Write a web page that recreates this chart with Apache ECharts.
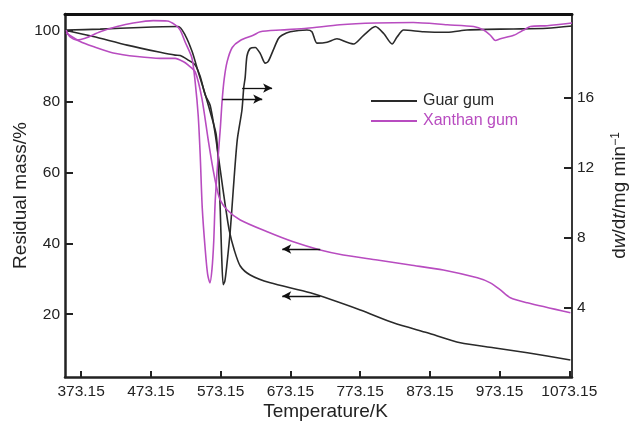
<!DOCTYPE html>
<html>
<head>
<meta charset="utf-8">
<script src="https://cdn.jsdelivr.net/npm/echarts@6/dist/echarts.min.js"></script>
<style>
html,body{margin:0;padding:0;background:#fff;}
#chart{width:630px;height:422px;}
</style>
</head>
<body>
<div id="chart"></div>
<script>
// Tick labels
var xTicks = [373.15, 473.15, 573.15, 673.15, 773.15, 873.15, 973.15, 1073.15];
var massTicks = [20, 40, 60, 80, 100];
var rateTicks = [4, 8, 12, 16];

// Guar gum residual mass (%) vs temperature (K)
var guarMassT = [351.6, 390.4, 439.1, 486.5, 508.0, 515.2, 526.7, 536.7, 543.9, 551.1, 558.2, 565.4, 572.6, 579.8, 585.5, 592.7, 601.3, 615.6, 644.3, 701.7, 773.4, 820.8, 869.6, 916.9, 964.3, 1013.0, 1074.7];
var guarMass  = [100, 98.29, 95.87, 93.86, 93.06, 92.96, 91.65, 90.24, 87.02, 81.79, 78.87, 70.8, 60.75, 50.7, 43.65, 38.1, 33.6, 31.07, 28.85, 26.03, 21.2, 17.58, 14.76, 11.95, 10.54, 9.13, 7.11];

// Xanthan gum residual mass (%)
var xanMassT = [351.6, 371.7, 390.4, 419.1, 453.5, 486.5, 508.0, 519.5, 526.7, 536.7, 546.3, 555.4, 562.5, 568.3, 572.6, 582.6, 601.3, 640.0, 677.3, 716.0, 749.0, 797.8, 845.2, 892.5, 941.3, 959.9, 974.3, 988.6, 1013.0, 1074.7];
var xanMass  = [99.3, 96.88, 95.47, 93.66, 92.65, 92.15, 92.15, 91.24, 90.24, 88.33, 80.88, 69.1, 60.65, 55.02, 52.2, 49.38, 46.56, 43.24, 40.42, 38.11, 36.7, 35.29, 33.88, 32.47, 30.26, 28.85, 26.84, 24.63, 23.22, 20.4];

// Guar gum dw/dt (mg/min)
var guarRateT = [351.6, 400.4, 458.0, 512.3, 522.4, 532.4, 541.0, 551.1, 561.1, 566.8, 569.7, 572.6, 574.6, 576.9, 579.2, 582.0, 587.0, 591.2, 597.0, 603.7, 606.3, 608.4, 610.9, 615.6, 622.8, 630.0, 637.1, 641.4, 648.6, 655.8, 661.1, 673.0, 696.9, 704.1, 711.3, 725.7, 740.0, 754.3, 763.8, 778.2, 795.0, 807.0, 819.0, 826.1, 835.6, 864.3, 897.8, 926.5, 955.2, 993.4, 1041.3, 1077];
var guarRate  = [19.9, 19.95, 20.05, 20.1, 19.6, 18.65, 17.5, 16.2, 14.8, 13.9, 12.4, 9.6, 7.0, 5.3, 5.5, 6.4, 8.4, 10.7, 13.6, 15.3, 16.6, 17.2, 18.4, 18.85, 18.9, 18.55, 18.0, 18.1, 18.75, 19.4, 19.6, 19.8, 19.9, 19.8, 19.15, 19.2, 19.4, 19.2, 19.1, 19.6, 20.1, 19.7, 19.1, 19.5, 19.9, 19.8, 19.77, 19.9, 19.94, 19.96, 20.0, 20.13];

// Xanthan gum dw/dt (mg/min)
var xanRateT = [351.6, 357.4, 367.4, 378.9, 400.4, 424.8, 447.8, 476.4, 496.5, 508.0, 515.2, 522.4, 532.0, 536.7, 541.0, 543.9, 546.8, 551.1, 554.5, 557.8, 560.8, 563.3, 565.4, 569.7, 572.6, 575.4, 578.3, 582.6, 589.8, 601.3, 619.9, 630.0, 658.6, 696.9, 744.3, 795.0, 849.5, 898.2, 936.0, 950.3, 959.9, 967.1, 974.3, 993.4, 1007.7, 1017.3, 1041.3, 1077];
var xanRate  = [19.9, 19.5, 19.33, 19.43, 19.8, 20.1, 20.3, 20.44, 20.42, 20.2, 19.9, 19.2, 18.3, 16.9, 15.0, 12.7, 9.7, 7.3, 5.9, 5.4, 6.2, 7.8, 10.1, 12.7, 14.2, 15.9, 17.1, 18.1, 18.9, 19.3, 19.6, 19.8, 19.9, 20.0, 20.2, 20.3, 20.33, 20.2, 20.1, 19.9, 19.6, 19.3, 19.4, 19.6, 19.9, 20.1, 20.15, 20.3];

// Annotation arrows: [startT, endT, level]
var rateArrows = [[575.4, 632.8, 15.94], [604.0, 647.0, 16.57]];
var massArrows = [[716.0, 661.5, 38.4], [716.0, 661.5, 25.16]];

var seriesNames = ['Guar gum', 'Xanthan gum'];
var colBlack = '#2a2a2a';
var colMag = '#b84cc0';

function zip(a, b) { return a.map(function (v, i) { return [v, b[i]]; }); }
function arrowLines(list) {
  return list.map(function (a) { return [{ coord: [a[0], a[2]] }, { coord: [a[1], a[2]] }]; });
}

var font = '"Liberation Sans", Arial, Helvetica, sans-serif';
var chart = echarts.init(document.getElementById('chart'));

function lineSeries(name, data, yIdx, color, arrows) {
  var s = {
    name: name, type: 'line', data: data, yAxisIndex: yIdx, xAxisIndex: 0,
    showSymbol: false, symbol: 'none', smooth: 0.25,
    lineStyle: { color: color, width: 1.6 }, itemStyle: { color: color },
    z: 3
  };
  if (arrows) {
    s.markLine = {
      silent: true, symbol: ['none', 'arrow'], symbolSize: [7, 9],
      label: { show: false },
      lineStyle: { color: '#111', width: 1.3, type: 'solid' },
      emphasis: { disabled: true },
      data: arrowLines(arrows)
    };
  }
  return s;
}

chart.setOption({
  animation: false,
  backgroundColor: '#fff',
  textStyle: { fontFamily: font },
  grid: { left: 65, right: 58, top: 14, bottom: 45, containLabel: false, outerBoundsMode: 'none' },
  legend: {
    orient: 'vertical', left: 371, top: 93, padding: 0, itemWidth: 46, itemHeight: 2, itemGap: 4,
    icon: 'rect',
    textStyle: { fontFamily: font, fontSize: 16, padding: [0, 0, 0, 1] },
    data: [
      { name: seriesNames[0], itemStyle: { color: colBlack }, textStyle: { color: colBlack } },
      { name: seriesNames[1], itemStyle: { color: colMag }, textStyle: { color: colMag } }
    ]
  },
  xAxis: [{
    type: 'value', min: 350, max: 1077, position: 'bottom',
    name: 'Temperature/K', nameLocation: 'middle', nameGap: 25, nameMoveOverlap: false,
    nameTextStyle: { fontSize: 19, color: '#222', fontFamily: font, verticalAlign: 'top', padding: [0, 0, 0, 14] },
    axisLine: { show: true, onZero: false, lineStyle: { color: '#222', width: 2.5 } },
    axisTick: { show: true, inside: true, length: 6, customValues: xTicks, lineStyle: { color: '#222', width: 2 } },
    axisLabel: { customValues: xTicks, fontSize: 15.5, color: '#222', margin: 7, fontFamily: font,
      formatter: function (v) { return v.toFixed(2); } },
    splitLine: { show: false }
  }, {
    type: 'value', min: 350, max: 1077, position: 'top',
    axisLine: { show: true, onZero: false, lineStyle: { color: '#111', width: 3 } },
    axisTick: { show: false }, axisLabel: { show: false }, splitLine: { show: false }
  }],
  yAxis: [{
    type: 'value', min: 2.3, max: 104.65, position: 'left',
    name: 'Residual mass/%', nameLocation: 'middle', nameGap: 35, nameRotate: 90, nameMoveOverlap: false,
    nameTextStyle: { fontSize: 19, color: '#222', fontFamily: font },
    axisLine: { show: true, onZero: false, lineStyle: { color: '#222', width: 2.5 } },
    axisTick: { show: true, inside: true, length: 8, customValues: massTicks, lineStyle: { color: '#222', width: 2 } },
    axisLabel: { customValues: massTicks, fontSize: 15.5, color: '#222', margin: 5, fontFamily: font },
    splitLine: { show: false }
  }, {
    type: 'value', min: 0, max: 20.82, position: 'right',
    name: '{n|d}{i|w}{n|/d}{i|t}{n|/mg min}{s|−1}', nameLocation: 'middle', nameGap: 38, nameRotate: 90,
    nameTextStyle: {
      fontSize: 19, color: '#222', fontFamily: font,
      rich: {
        n: { fontSize: 19, color: '#222', fontFamily: font },
        i: { fontSize: 19, color: '#222', fontFamily: font, fontStyle: 'italic' },
        s: { fontSize: 12, color: '#222', fontFamily: font, verticalAlign: 'top', padding: [0, 0, 8, 0] }
      }
    },
    axisLine: { show: true, onZero: false, lineStyle: { color: '#222', width: 1.8 } },
    axisTick: { show: true, inside: true, length: 8, customValues: rateTicks, lineStyle: { color: '#222', width: 2 } },
    axisLabel: { customValues: rateTicks, fontSize: 15.5, color: '#222', margin: 5, fontFamily: font },
    splitLine: { show: false }
  }],
  series: [
    lineSeries(seriesNames[0], zip(guarMassT, guarMass), 0, colBlack, massArrows),
    lineSeries(seriesNames[0], zip(guarRateT, guarRate), 1, colBlack, rateArrows),
    lineSeries(seriesNames[1], zip(xanMassT, xanMass), 0, colMag, null),
    lineSeries(seriesNames[1], zip(xanRateT, xanRate), 1, colMag, null)
  ]
});
</script>
</body>
</html>
